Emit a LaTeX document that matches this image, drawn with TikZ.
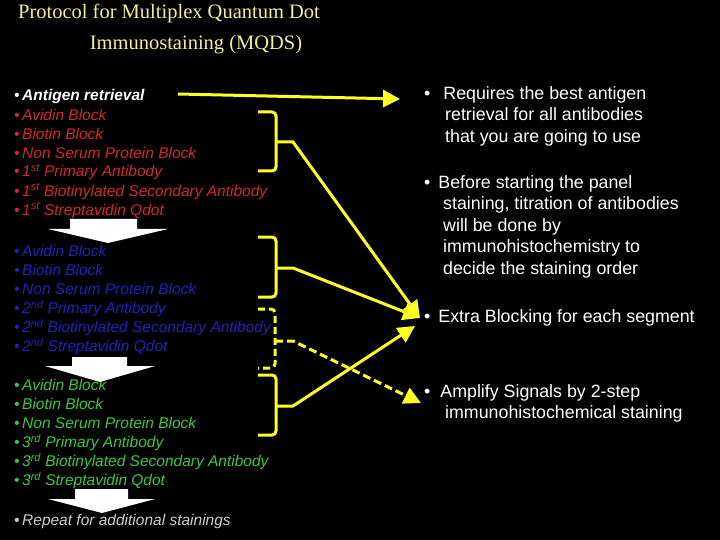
\documentclass[tikz,border=0pt]{standalone}
\usepackage{fontspec}
\setmainfont{Liberation Sans}
\newfontfamily\titlefont{Liberation Serif}
\usetikzlibrary{arrows.meta}
\definecolor{tyel}{HTML}{F2EE9A}
\definecolor{ared}{HTML}{D02A2A}
\definecolor{ablue}{HTML}{2222B8}
\definecolor{agreen}{HTML}{3CC83C}
\definecolor{ayel}{HTML}{FFFF20}
\begin{document}
\begin{tikzpicture}[x=1pt,y=-1pt,
  item/.style={anchor=west,inner sep=0pt,font=\fontsize{15.5}{15.5}\selectfont\itshape},
  rtext/.style={anchor=north west,inner sep=0pt,align=left,text=white,font=\fontsize{17.8}{21.6}\selectfont},
  brk/.style={draw=ayel,line width=3pt,rounded corners=4pt},
  conn/.style={draw=ayel,line width=3pt,-{Triangle[length=17pt,width=17pt]}},
  darrow/.style={fill=white}]
\fill[black] (0,0) rectangle (720,540);
\useasboundingbox (0,0) rectangle (720,540);
\node[text=tyel,font=\titlefont\fontsize{20.5}{20.5}\selectfont] (t1) at (169,13) {Protocol for Multiplex Quantum Dot};
\node[text=tyel,font=\titlefont\fontsize{20.5}{20.5}\selectfont] (t2) at (196,45) {Immunostaining (MQDS)};
\node[item,text=white] (ag) at (14,96) {\textbullet\,\textbf{Antigen retrieval}};
\foreach \t [count=\i] in {Avidin Block,Biotin Block,Non Serum Protein Block,1\textsuperscript{st} Primary Antibody,1\textsuperscript{st} Biotinylated Secondary Antibody,1\textsuperscript{st} Streptavidin Qdot}
  \node[item,text=ared] (r\i) at (14,{96+19.1*\i}) {\textbullet\,\t};
\foreach \t [count=\i] in {Avidin Block,Biotin Block,Non Serum Protein Block,2\textsuperscript{nd} Primary Antibody,2\textsuperscript{nd} Biotinylated Secondary Antibody,2\textsuperscript{nd} Streptavidin Qdot}
  \node[item,text=ablue] (b\i) at (14,{232+19.1*\i}) {\textbullet\,\t};
\foreach \t [count=\i] in {Avidin Block,Biotin Block,Non Serum Protein Block,3\textsuperscript{rd} Primary Antibody,3\textsuperscript{rd} Biotinylated Secondary Antibody,3\textsuperscript{rd} Streptavidin Qdot}
  \node[item,text=agreen] (g\i) at (14,{366+19.1*\i}) {\textbullet\,\t};
\node[item,text=white!80!black] (rep) at (14,521) {\textbullet\,Repeat for additional stainings};
% down arrows
\fill[darrow] (70,219)--(137,219)--(137,229)--(168,229)--(108,243)--(48,229)--(70,229)--cycle;
\fill[darrow] (72,357)--(127,357)--(127,366)--(155,366)--(100,382)--(45,366)--(72,366)--cycle;
\fill[darrow] (75,489)--(128,489)--(128,499)--(155,499)--(102,513)--(48,499)--(75,499)--cycle;
% brackets
\coordinate (m1) at (276,142); \coordinate (m2) at (276,268);
\coordinate (m3) at (275,341); \coordinate (m4) at (276,406);
\draw[brk] (258,112)--(276,112)--(276,171)--(258,171);
\draw[brk] (258,237)--(276,237)--(276,297)--(258,297);
\draw[brk,dashed,dash pattern=on 7pt off 4pt] (258,309)--(275,309)--(275,368)--(258,368);
\draw[brk] (258,375)--(276,375)--(276,435)--(258,435);
% right texts
\node[rtext] (x1) at (424,86) {\textbullet\hspace{13pt}Requires the best antigen\\\hspace{21pt}retrieval for all antibodies\\\hspace{21pt}that you are going to use};
\node[rtext] (x2) at (424,175) {\textbullet\hspace{8pt}Before starting the panel\\\hspace{19pt}staining, titration of antibodies\\\hspace{19pt}will be done by\\\hspace{19pt}immunohistochemistry to\\\hspace{19pt}decide the staining order};
\node[rtext] (x3) at (424,309) {\textbullet\hspace{8pt}Extra Blocking for each segment};
\node[rtext] (x4) at (424,384) {\textbullet\hspace{10pt}Amplify Signals by 2-step\\\hspace{21pt}immunohistochemical staining};
\coordinate (e0) at (400,99);
\coordinate (e1) at (420,318);
\coordinate (e2) at (421,403);
\coordinate (e3) at (415,326);
% connectors
\draw[conn] (178,94) -- (e0);
\draw[conn] (m1) -- (293,142) -- (e1);
\draw[conn] (m2) -- (293,268) -- (e1);
\draw[conn] (m4) -- (293,406) -- (e3);
\draw[conn,dash pattern=on 8pt off 4pt] (m3) -- (293,341) -- (e2);
\end{tikzpicture}
\end{document}
